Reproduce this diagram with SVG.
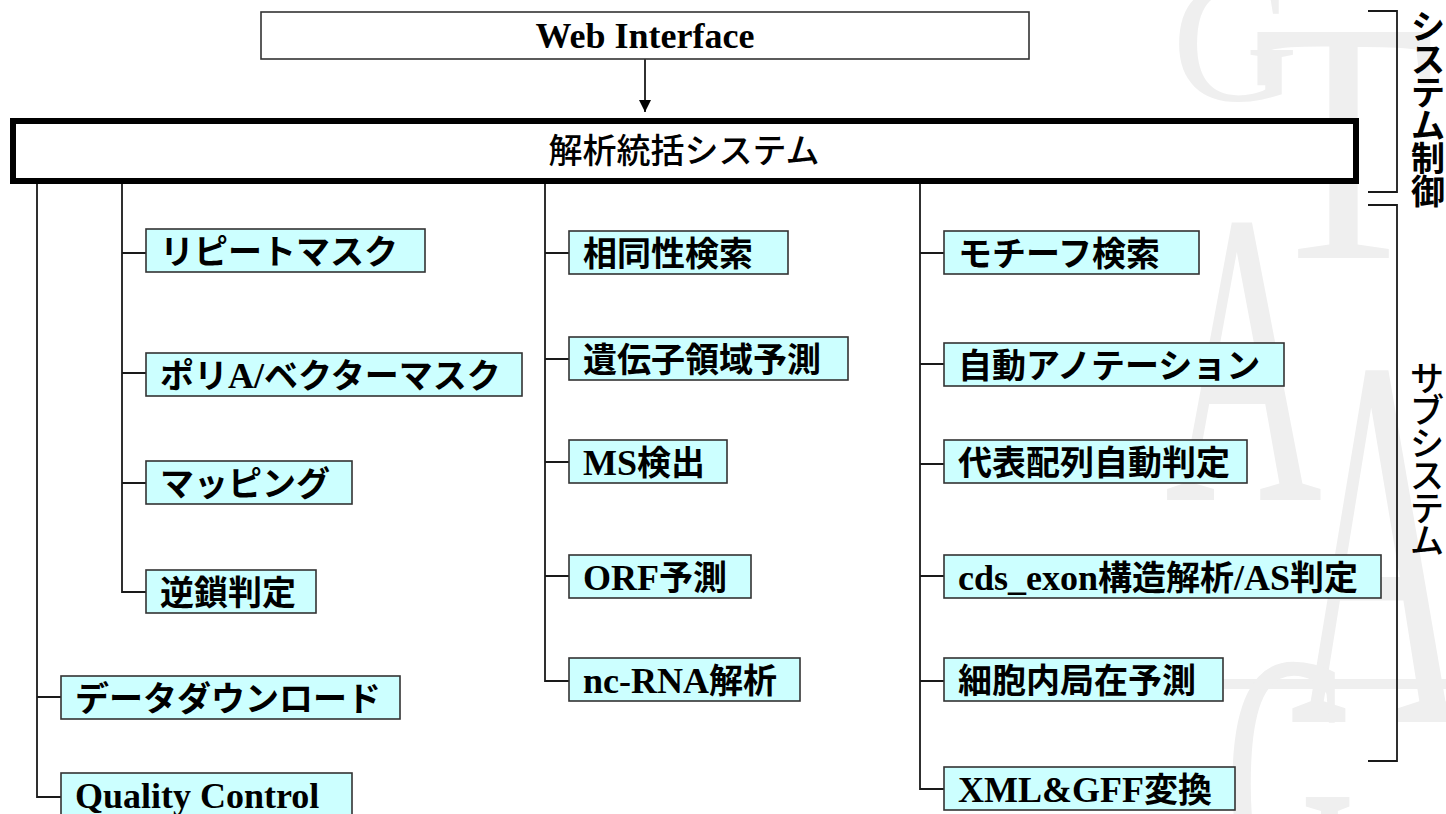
<svg xmlns="http://www.w3.org/2000/svg" width="1446" height="814" viewBox="0 0 1446 814">
<defs>
<style>
.bg{fill:#ffffff}
.wm{fill:#efefef;font-family:"Liberation Serif",serif}
.conn{stroke:#1a1a1a;stroke-width:1.8;fill:none}
.box{fill:#ccffff;stroke:#333333;stroke-width:1.6}
.lbl{font-family:"Liberation Serif","Noto Sans CJK JP",serif;font-weight:bold;font-size:34px;fill:#000}
.lat{font-size:36px}
.main{fill:#ffffff;stroke:#000;stroke-width:6}
.web{fill:#ffffff;stroke:#333333;stroke-width:1.6}
.vt{font-family:"Noto Sans CJK JP","Noto Sans CJK SC",sans-serif;font-size:34px;fill:#000;text-anchor:middle}
</style>
<marker id="ah" viewBox="0 0 12 12" refX="12" refY="6" markerWidth="12" markerHeight="12" markerUnits="userSpaceOnUse" orient="auto">
<path d="M0,0 L12,6 L0,12 Z" fill="#000"/>
</marker>
</defs>
<rect class="bg" x="0" y="0" width="1446" height="814"/>

<g id="watermark">
<text class="wm" x="1172" y="100" font-size="175">G</text>
<text class="wm" transform="translate(1252,258) scale(1,1.15)" font-size="300">T</text>
<text class="wm" transform="translate(1165,500) scale(0.75,1.45)" font-size="290">A</text>
<text class="wm" transform="translate(1290,722) scale(0.6,1.3)" font-size="410">A</text>
<rect class="wm" x="1100" y="679" width="346" height="10"/>
<text class="wm" transform="translate(1225,900) scale(0.6,1.2)" font-size="300">G</text>
</g>

<g id="connectors">
<line class="conn" x1="645" y1="59" x2="645" y2="112" marker-end="url(#ah)"/>
<path class="conn" d="M37,184 V797 H61 M37,697 H61"/>
<path class="conn" d="M122,184 V592 H146 M122,253 H146 M122,373 H146 M122,483 H146"/>
<path class="conn" d="M545,184 V681 H569 M545,253 H569 M545,359 H569 M545,462 H569 M545,576 H569"/>
<path class="conn" d="M920,184 V789 H944 M920,253 H944 M920,364 H944 M920,464 H944 M920,576 H944 M920,681 H944"/>
<path class="conn" d="M1368,11 H1397 V192 H1368"/>
<path class="conn" d="M1368,205 H1397 V761 H1368"/>
</g>

<g id="web-interface">
<rect class="web" x="261" y="12" width="768" height="47"/>
<text class="lbl" x="645" y="48" text-anchor="middle" style="font-size:36px">Web Interface</text>
</g>

<g id="main-system">
<rect class="main" x="13" y="121" width="1343" height="60"/>
<text x="684" y="163" text-anchor="middle" style="font-family:'Noto Sans CJK JP',sans-serif;font-size:34px;font-weight:500">解析統括システム</text>
</g>

<g id="n-repeat"><rect class="box" x="146" y="229" width="279" height="43"/><text class="lbl" x="160" y="264">リピートマスク</text></g>
<g id="n-polya"><rect class="box" x="146" y="353" width="376" height="43"/><text class="lbl" x="160" y="388">ポリ<tspan class="lat">A/</tspan>ベクターマスク</text></g>
<g id="n-mapping"><rect class="box" x="146" y="461" width="206" height="43"/><text class="lbl" x="160" y="496">マッピング</text></g>
<g id="n-reverse"><rect class="box" x="146" y="570" width="170" height="43"/><text class="lbl" x="160" y="605">逆鎖判定</text></g>
<g id="n-download"><rect class="box" x="61" y="676" width="339" height="43"/><text class="lbl" x="75" y="711">データダウンロード</text></g>
<g id="n-qc"><rect class="box" x="61" y="773" width="291" height="50"/><text class="lbl lat" x="75" y="808">Quality Control</text></g>

<g id="n-homology"><rect class="box" x="569" y="231" width="219" height="43"/><text class="lbl" x="583" y="266">相同性検索</text></g>
<g id="n-gene"><rect class="box" x="569" y="337" width="279" height="43"/><text class="lbl" x="583" y="372">遺伝子領域予測</text></g>
<g id="n-ms"><rect class="box" x="569" y="440" width="158" height="43"/><text class="lbl" x="583" y="475"><tspan class="lat">MS</tspan>検出</text></g>
<g id="n-orf"><rect class="box" x="569" y="555" width="182" height="43"/><text class="lbl" x="583" y="590"><tspan class="lat">ORF</tspan>予測</text></g>
<g id="n-ncrna"><rect class="box" x="569" y="658" width="231" height="43"/><text class="lbl" x="583" y="693"><tspan class="lat">nc-RNA</tspan>解析</text></g>

<g id="n-motif"><rect class="box" x="944" y="231" width="255" height="43"/><text class="lbl" x="958" y="266">モチーフ検索</text></g>
<g id="n-annot"><rect class="box" x="944" y="343" width="340" height="43"/><text class="lbl" x="958" y="378">自動アノテーション</text></g>
<g id="n-repr"><rect class="box" x="944" y="440" width="303" height="43"/><text class="lbl" x="958" y="475">代表配列自動判定</text></g>
<g id="n-cds"><rect class="box" x="944" y="555" width="437" height="43"/><text class="lbl" x="958" y="590"><tspan class="lat">cds_exon</tspan>構造解析<tspan class="lat">/AS</tspan>判定</text></g>
<g id="n-local"><rect class="box" x="944" y="658" width="279" height="43"/><text class="lbl" x="958" y="693">細胞内局在予測</text></g>
<g id="n-xml"><rect class="box" x="944" y="767" width="291" height="43"/><text class="lbl" x="958" y="802"><tspan class="lat">XML&amp;GFF</tspan>変換</text></g>

<g id="label-system-control" font-weight="bold">
<text class="vt" x="1428" y="39">シ</text>
<text class="vt" x="1428" y="72">ス</text>
<text class="vt" x="1428" y="105">テ</text>
<text class="vt" x="1428" y="138">ム</text>
<text class="vt" x="1428" y="171">制</text>
<text class="vt" x="1428" y="204">御</text>
</g>
<g id="label-subsystem" font-weight="500">
<text class="vt" x="1427" y="391">サ</text>
<text class="vt" x="1427" y="423">ブ</text>
<text class="vt" x="1427" y="456">シ</text>
<text class="vt" x="1427" y="488">ス</text>
<text class="vt" x="1427" y="521">テ</text>
<text class="vt" x="1427" y="553">ム</text>
</g>
</svg>
